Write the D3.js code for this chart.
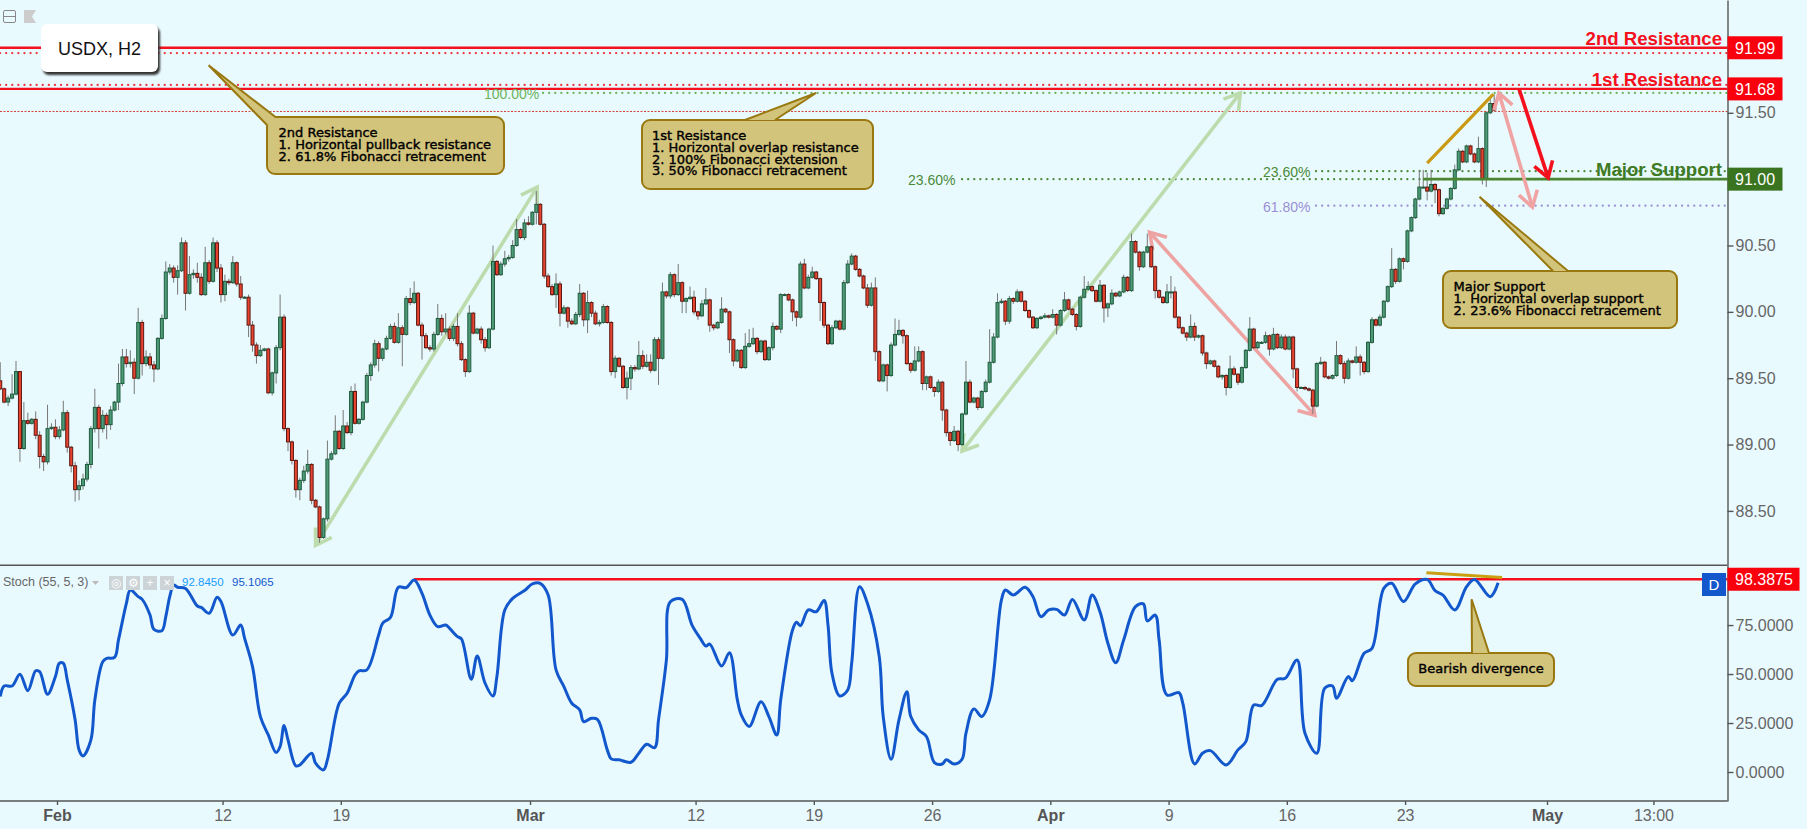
<!DOCTYPE html>
<html>
<head>
<meta charset="utf-8">
<title>USDX, H2</title>
<script src="https://cdn.jsdelivr.net/npm/d3@7"></script>
<style>
  html, body { margin: 0; padding: 0; background: #e9faff; }
  svg { display: block; }
  text { font-family: "Liberation Sans", Arial, sans-serif; }
  .axis text { font-size: 16px; fill: #666; }
  .axis path, .axis line { stroke: #555; stroke-width: 1.4px; }
</style>
</head>
<body>
<svg id="chart" width="1807" height="829"></svg>
<script>
const WIDTH = 1807;
const AXIS_X = 1727.5;
const PANE_BOTTOM = 565.3;
const STOCH_BOTTOM = 801;
const FIRST_DAY = -2.4;      // trading days from 1 Feb
const BARS_PER_DAY = 6;

const firstOpen = 89.48;

const closes = [
  89.42,89.32,89.35,89.38,89.55,88.97,89.18,89.16,89.19,89.07,88.91,88.87,89.12,89.13,89.06,89.11,89.24,88.98,88.84,88.66,88.69,88.74,88.85,89.12,89.28,89.12,89.22,89.15,89.26,89.32,89.46,89.66,89.61,89.62,89.50,89.92,89.61,89.66,89.60,89.57,89.80,89.95,90.30,90.33,90.26,90.31,90.52,90.14,90.28,90.29,90.26,90.13,90.37,90.23,90.52,90.33,90.13,90.23,90.22,90.37,90.21,90.11,90.11,89.90,89.75,89.67,89.71,89.72,89.39,89.54,89.73,89.96,89.12,89.02,88.88,88.66,
  88.73,88.80,88.85,88.58,88.53,88.30,88.44,88.89,88.93,89.10,88.97,89.14,89.09,89.40,89.16,89.19,89.32,89.52,89.60,89.76,89.65,89.72,89.80,89.89,89.77,89.88,89.83,90.10,90.07,90.14,89.90,89.82,89.73,89.72,89.83,89.95,89.85,89.87,89.80,89.89,89.76,89.64,89.55,89.99,89.84,89.87,89.79,89.73,89.87,90.38,90.28,90.36,90.40,90.41,90.50,90.62,90.56,90.67,90.66,90.75,90.81,90.66,90.27,90.19,90.13,90.21,89.99,90.03,89.93,89.91,89.98,90.14,89.94,90.07,89.99,89.91,
  89.92,90.04,89.92,89.55,89.65,89.59,89.43,89.50,89.58,89.57,89.67,89.59,89.62,89.56,89.79,89.65,90.15,90.12,90.28,90.13,90.22,90.08,90.10,90.11,90.00,89.97,90.06,90.09,89.90,89.88,89.92,90.02,90.00,89.79,89.63,89.71,89.58,89.74,89.76,89.80,89.70,89.78,89.64,89.73,89.89,89.87,90.13,90.13,90.09,90.00,89.96,90.36,90.18,90.26,90.30,90.25,90.07,89.90,89.76,89.88,89.93,89.87,90.22,90.36,90.42,90.32,90.27,90.18,90.05,90.18,89.70,89.48,89.60,89.52,89.75,89.83,
  89.86,89.82,89.61,89.56,89.63,89.70,89.46,89.51,89.43,89.40,89.47,89.26,89.09,89.03,89.10,89.00,89.23,89.47,89.32,89.35,89.28,89.40,89.47,89.62,89.81,90.07,90.08,89.93,90.10,90.08,90.15,90.08,90.01,89.96,89.88,89.95,89.96,89.97,89.96,89.98,89.90,90.01,90.09,90.02,89.98,89.89,90.11,90.17,90.19,90.16,90.08,90.20,90.03,90.06,90.14,90.12,90.15,90.26,90.16,90.53,90.45,90.34,90.45,90.49,90.34,90.16,90.11,90.07,90.15,90.15,89.96,89.88,89.84,89.81,89.89,89.81,
  89.82,89.69,89.61,89.63,89.59,89.51,89.52,89.43,89.57,89.53,89.47,89.58,89.71,89.87,89.73,89.77,89.77,89.82,89.72,89.83,89.73,89.81,89.72,89.81,89.57,89.43,89.43,89.42,89.41,89.29,89.61,89.62,89.51,89.50,89.52,89.67,89.61,89.50,89.63,89.62,89.66,89.62,89.55,89.77,89.94,89.90,89.96,90.08,90.19,90.32,90.23,90.40,90.38,90.61,90.71,90.85,90.94,90.94,90.91,90.96,90.92,90.74,90.78,90.85,90.93,91.07,91.21,91.13,91.25,91.19,91.13,91.23,91.00,91.50,91.57,91.52
];

// wick lengths above and below each body, in hundredths of a point
const upperWicks = [
  14,1,2,15,8,0,14,6,1,6,3,2,18,3,6,3,9,2,1,3,4,4,2,2,14,2,4,2,3,1,15,6,6,9,3,11,2,5,3,3,1,3,8,3,2,4,4,2,14,3,8,3,12,2,4,2,3,5,2,5,1,6,1,2,3,2,4,1,1,1,2,17,2,1,1,1,
  2,4,11,1,1,1,1,14,2,12,1,12,3,4,6,1,1,2,2,3,2,1,2,2,3,11,2,2,8,9,1,2,2,2,2,11,3,12,2,2,10,2,1,6,1,1,2,2,1,12,1,2,6,2,4,8,1,3,5,1,10,1,1,2,2,8,2,2,1,2,2,7,1,9,1,2,
  2,2,1,1,2,1,1,5,2,2,11,4,6,6,2,2,7,1,2,1,14,1,1,8,5,1,3,9,1,1,1,9,1,1,1,1,1,10,11,8,1,1,1,1,3,1,1,1,1,1,1,2,4,2,4,1,1,1,1,2,1,1,2,3,2,1,1,1,3,4,8,1,1,1,2,12,
  8,1,1,1,11,4,1,1,1,1,2,1,1,1,4,1,1,16,2,1,1,1,2,25,3,7,2,1,2,1,2,1,1,1,1,1,1,2,1,4,1,1,6,1,1,1,1,10,4,1,1,4,1,1,3,1,1,2,1,6,1,1,1,10,1,1,1,1,6,12,4,1,1,1,9,3,
  1,1,1,1,1,1,1,1,10,2,1,1,1,9,1,1,1,3,1,5,1,2,2,1,1,1,1,1,1,1,1,4,1,1,1,11,1,2,2,1,8,2,1,1,2,1,2,1,1,16,1,1,1,1,1,1,13,13,11,11,1,1,1,1,1,4,2,1,1,1,1,9,1,1,4,7
];
const lowerWicks = [
  1,1,3,1,1,10,1,1,1,3,9,7,2,1,2,2,1,4,5,9,8,3,2,3,3,15,3,11,4,1,6,2,3,3,12,1,9,2,3,10,1,1,1,2,4,13,1,13,1,3,4,1,1,2,1,3,6,5,2,1,2,2,1,9,5,6,1,1,1,2,8,2,2,7,3,6,
  8,2,2,3,1,4,1,2,1,1,1,1,1,2,1,1,1,1,4,2,10,2,1,1,1,1,24,1,2,1,1,18,1,2,2,1,3,2,2,2,2,1,4,1,1,1,3,3,1,1,1,1,2,2,1,1,1,2,1,1,9,1,2,1,1,10,10,1,5,1,1,2,5,10,3,1,
  2,1,1,3,5,1,1,9,9,2,1,2,1,2,1,20,1,2,2,2,1,9,9,1,2,3,1,1,5,2,1,1,1,10,4,1,1,1,1,1,2,1,1,1,2,1,3,1,1,7,7,1,1,1,1,1,14,2,1,1,1,1,1,1,1,1,1,1,2,1,7,1,1,12,1,1,
  1,6,1,2,1,1,5,5,1,4,1,8,3,4,1,5,1,1,1,1,2,1,1,1,1,1,1,3,2,2,1,1,1,1,1,1,1,1,1,1,7,1,1,1,1,3,1,1,1,1,1,1,11,7,1,1,1,1,1,1,1,3,1,1,1,6,1,1,1,5,1,1,1,3,1,3,
  1,2,4,1,1,1,2,6,1,1,2,1,1,1,1,1,1,1,5,1,1,1,1,1,7,3,1,1,1,6,1,1,1,1,1,1,1,4,1,1,1,10,2,1,1,1,1,1,1,1,2,1,6,1,1,1,1,1,7,1,10,2,1,1,1,1,1,1,1,1,1,1,4,6,1,1
];

// stochastic line, read at the turning points
const stochBars = [
  0,1,3,5,7,9,10,12,14,15,16,17,19,20,21,23,24,26,27,29,30,32,33,35,36,38,39,41,42,43,44,45,47,50,51,53,55,56,59,61,62,64,66,68,70,71,72,73,75,76,79,80,82,83,86,88,90,91,93,96,97,99,101,103,105,107,109,111,113,114,116,117,119.5,121,123,125,126,128,130,133,135,137,139,141,143,145,147,148,150,151.5,154,155,157,160,162,164,166,167,169,170,173,175.5,177.6,
  179,180,183,185,187,188,190,193,195,197,198,201,202,203,205,207,209,210,211,213,215,216,218,220,223,224,226,228,230,231,233,235,237,239,240,242,244,245,247,249,251,254,255,257,260,262,264,266,268,270,272,275,277,279,281,283,285,288,290,291,293,294,296,299,300,303,305,307,311,314,316,318,320,324,326,329,331,334,336,338,339,342,343,346,348,351,353,356,359,362,364,366,369,372,374,378,380
];
const stochValues = [
  38.5,43.9,43.9,49.9,41.5,51.7,51.2,39.7,48.7,55.5,55.5,47,26.6,11.3,8.2,16.4,36.8,56.3,58,58.5,67.4,86.1,92.9,89.5,88.1,80.1,72.8,72.1,79.3,89.5,95.4,94.3,93.7,84.7,84,81,89.2,87,69.9,75,68.2,53.8,28.3,18.9,9.9,13,23.7,16.4,3.1,3.6,9.6,4.5,1.1,6.2,35.1,40.2,49.5,51.6,52.1,69.9,75.9,78.9,94.3,94.1,98,91.2,80.1,74.2,75,73.3,69.1,67.9,47.3,59.2,45.3,38.8,48.7,82.7,88.6,92.6,96,96.3,90.3,52.1,43.6,35.1,31.7,25.7,27.4,26.9,11.3,6.7,6.2,5,9.6,14.2,12.4,26.6,57.2,86.9,88.1,75,68.2,
  64.3,65.3,54.1,60.9,36.8,29.1,23.2,35.9,28.3,18.9,36.8,72.5,76.4,74.7,82.7,81.8,87.5,75,50.4,38.8,41.9,55.5,94.6,86.1,58.9,28.3,6.5,26.6,41,28.3,21.5,18,4.8,4.1,6.2,4.1,6.5,19.8,32.2,28.3,36.8,87.8,92.9,90.3,94.3,89.5,79.3,82.7,83,80.1,88.1,77.6,90.3,81.8,65.7,55.8,67.4,84.4,85.8,77.1,80.1,67.4,39.3,40.5,35.1,4.1,9.6,10.9,3.6,11.3,15.5,34.2,33.9,47.3,47.8,57.2,19.8,9.6,42.7,43.9,37.6,48.7,46.6,60.6,63.1,93.7,96.3,87,96,98.3,92.6,90.3,82.7,94.6,98.3,89.5,96.6
];

const priceTicks = [88.5, 89, 89.5, 90, 90.5, 91.5];
const stochTicks = [0, 25, 50, 75];
const dayTicks = [0, 7, 12, 20, 27, 32, 37, 42, 47, 52, 57, 63, 67.5];
const dayLabels = ['Feb', '12', '19', 'Mar', '12', '19', '26', 'Apr', '9', '16', '23', 'May', '13:00'];
const monthLabels = ['Feb', 'Mar', 'Apr', 'May'];

// [bar, price] pairs for the drawn trend lines
const greenArrowOne = [[80, 88.24], [136.2, 90.94]];
const greenArrowTwo = [[244, 88.95], [314.6, 91.65]];
const pinkArrowOne = [[291.6, 90.60], [333.5, 89.22]];
const pinkArrowTwo = [[380.2, 91.65], [388.7, 90.79]];
const redArrow = [[385.3, 91.68], [392.7, 91.01]];
const orangeLine = [[362, 91.12], [378.8, 91.64]];
const divergenceLine = [[361.8, 101.7], [381, 99.3]];
const STOCH_LEVEL_BAR = 105;
const STOCH_LEVEL = 98.3875;

const x = d3.scaleLinear().domain([0, 63]).range([57, 1547]);
const y = d3.scaleLinear().domain([88.09, 92.35]).range([PANE_BOTTOM, 0]);
const stochY = d3.scaleLinear().domain([-14.8, 105.5]).range([STOCH_BOTTOM, PANE_BOTTOM]);
const barX = i => x(FIRST_DAY + i / BARS_PER_DAY);

const svg = d3.select('#chart');

function level(price, x0, cls) {
  const s = svg.append('line')
    .attr('x1', x0).attr('x2', AXIS_X)
    .attr('y1', y(price)).attr('y2', y(price))
    .attr('stroke', cls.color).attr('stroke-width', cls.width);
  if (cls.dash) s.attr('stroke-dasharray', cls.dash).attr('stroke-linecap', cls.cap || 'butt');
}

function arrow(points, yScale, color, width, heads) {
  const p = points.map(d => [barX(d[0]), yScale(d[1])]);
  const g = svg.append('g').attr('fill', 'none').attr('stroke', color)
    .attr('stroke-width', width).attr('stroke-linejoin', 'miter');
  g.append('line').attr('x1', p[0][0]).attr('y1', p[0][1]).attr('x2', p[1][0]).attr('y2', p[1][1]);
  heads.forEach(h => {
    const tip = p[h], tail = p[1 - h];
    const a = Math.atan2(tail[1] - tip[1], tail[0] - tip[0]);
    const arm = da => [tip[0] + 18 * Math.cos(a + da), tip[1] + 18 * Math.sin(a + da)];
    g.append('path').attr('d', d3.line()([arm(0.56), tip, arm(-0.56)]));
  });
}

const dotted = color => ({ color, width: 2.2, dash: '0.1 6', cap: 'round' });

// levels that sit behind the price
level(91.95, 0, dotted('#f0303c'));
level(91.71, 0, dotted('#f0303c'));
level(91.65, 543, dotted('#6db35c'));
level(91.51, 0, { color: '#d2402e', width: 1, dash: '2 1.5' });
level(91.06, 1316, dotted('#4a8a38'));
level(91.00, 962, dotted('#4a8a38'));
level(90.80, 1316, dotted('#9a8fd4'));
level(91.99, 0, { color: '#f4101c', width: 2.4 });
level(91.68, 0, { color: '#f4101c', width: 2.4 });

arrow(greenArrowOne, y, '#bcdcae', 3.6, [0, 1]);
arrow(greenArrowTwo, y, '#bcdcae', 3.6, [0, 1]);
arrow(pinkArrowOne, y, '#eea3a3', 3.6, [0, 1]);

// candles
const candles = closes.map((close, i) => {
  const open = i === 0 ? firstOpen : closes[i - 1];
  return {
    i, open, close,
    high: Math.max(open, close) + upperWicks[i] / 100,
    low: Math.min(open, close) - lowerWicks[i] / 100
  };
});

svg.append('g').selectAll('line').data(candles).join('line')
  .attr('x1', d => barX(d.i)).attr('x2', d => barX(d.i))
  .attr('y1', d => y(d.high)).attr('y2', d => y(d.low))
  .attr('stroke', '#777').attr('stroke-width', 1);

svg.append('g').selectAll('rect').data(candles).join('rect')
  .attr('x', d => barX(d.i) - 1.5)
  .attr('width', 3)
  .attr('y', d => y(Math.max(d.open, d.close)))
  .attr('height', d => Math.max(1, Math.abs(y(d.open) - y(d.close))))
  .attr('fill', d => d.close >= d.open ? '#4d9a78' : '#e8432e')
  .attr('stroke', d => d.close >= d.open ? '#1f5c3c' : '#5c1710')
  .attr('stroke-width', 1);

level(91.00, 1423, { color: '#4b8530', width: 2.6 });

arrow(pinkArrowTwo, y, '#f0a3a3', 3.6, [0, 1]);
arrow(redArrow, y, '#f4101c', 3.6, [1]);
arrow(orangeLine, y, '#c99a12', 3.2, []);

// stochastic pane
svg.append('line').attr('x1', barX(STOCH_LEVEL_BAR)).attr('x2', AXIS_X)
  .attr('y1', stochY(STOCH_LEVEL)).attr('y2', stochY(STOCH_LEVEL))
  .attr('stroke', '#f4101c').attr('stroke-width', 2.4);

svg.append('path')
  .datum(stochBars.map((b, i) => [barX(b), stochY(stochValues[i])]))
  .attr('fill', 'none').attr('stroke', '#1258cc').attr('stroke-width', 3)
  .attr('stroke-linejoin', 'round')
  .attr('d', d3.line().curve(d3.curveCatmullRom.alpha(0.5)));

arrow(divergenceLine, stochY, '#c9a012', 3, []);

// axes
svg.append('g').attr('class', 'axis')
  .attr('transform', `translate(${AXIS_X},0)`)
  .call(d3.axisRight(y).tickValues(priceTicks).tickFormat(d3.format('.2f')).tickSize(6).tickSizeOuter(0).tickPadding(2));

svg.append('g').attr('class', 'axis')
  .attr('transform', `translate(${AXIS_X},0)`)
  .call(d3.axisRight(stochY).tickValues(stochTicks).tickFormat(d3.format('.4f')).tickSize(6).tickSizeOuter(0).tickPadding(2));

const timeAxis = svg.append('g').attr('class', 'axis')
  .attr('transform', `translate(0,${STOCH_BOTTOM})`)
  .call(d3.axisBottom(x).tickValues(dayTicks).tickFormat((d, i) => dayLabels[i]).tickSize(4).tickSizeOuter(0).tickPadding(5));
timeAxis.select('.domain').remove();
timeAxis.selectAll('text')
  .attr('font-weight', (d, i) => monthLabels.includes(dayLabels[i]) ? 'bold' : null)
  .style('fill', (d, i) => monthLabels.includes(dayLabels[i]) ? '#555' : '#666');

[PANE_BOTTOM, STOCH_BOTTOM].forEach(py => {
  svg.append('line').attr('x1', 0).attr('x2', AXIS_X).attr('y1', py).attr('y2', py)
    .attr('stroke', '#555').attr('stroke-width', 1.4);
});

// value tags on the price axis
function tag(value, yScale, fill, digits, w) {
  const cy = yScale(value);
  svg.append('rect').attr('x', AXIS_X).attr('y', cy - 11.5).attr('width', w).attr('height', 23).attr('fill', fill);
  svg.append('text').attr('x', AXIS_X + 7.5).attr('y', cy + 6).attr('fill', '#fff').attr('font-size', 16)
    .text(value.toFixed(digits));
}
tag(91.99, y, '#f8000c', 2, 55);
tag(91.68, y, '#f8000c', 2, 55);
tag(91.00, y, '#3a7420', 2, 55);
tag(STOCH_LEVEL, stochY, '#f8000c', 4, 72);

svg.append('rect').attr('x', 1702).attr('y', 573).attr('width', 24).attr('height', 23).attr('fill', '#1258cc');
svg.append('text').attr('x', 1714).attr('y', 590).attr('text-anchor', 'middle').attr('fill', '#fff').attr('font-size', 15).text('D');

// level names
[['2nd Resistance', 91.99, '#f4101c', 3], ['1st Resistance', 91.68, '#f4101c', 3.3], ['Major Support', 91.00, '#3f7a24', 3.6]].forEach(d => {
  svg.append('text').attr('x', 1722).attr('y', y(d[1]) - d[3]).attr('text-anchor', 'end')
    .attr('font-size', 18.6).attr('font-weight', 'bold').attr('fill', d[2]).text(d[0]);
});

// fibonacci labels
[['100.00%', 91.65, 484, '#6db35c'], ['23.60%', 91.00, 908, '#4a8a38'], ['23.60%', 91.06, 1263, '#4a8a38'], ['61.80%', 90.80, 1263, '#9a8fd4']].forEach(d => {
  svg.append('text').attr('x', d[2]).attr('y', y(d[1]) + 6).attr('font-size', 14).attr('fill', d[3]).text(d[0]);
});

// callouts
function callout(box, tail, lines, textX, firstBaseline, anchor) {
  const g = svg.append('g');
  g.append('rect').attr('x', box[0]).attr('y', box[1]).attr('width', box[2] - box[0]).attr('height', box[3] - box[1])
    .attr('rx', 8).attr('fill', '#d3c47c').attr('stroke', '#98780f').attr('stroke-width', 2);
  g.append('path').attr('d', d3.line()(tail)).attr('fill', '#d3c47c').attr('stroke', '#98780f').attr('stroke-width', 2);
  g.append('g').selectAll('text').data(lines).join('text')
    .attr('x', textX).attr('y', (d, i) => firstBaseline + i * 11.8)
    .attr('text-anchor', anchor || 'start')
    .style('font-family', '"DejaVu Sans"')
    .attr('font-size', 13).attr('fill', '#000').attr('stroke', '#000').attr('stroke-width', 0.4).text(d => d);
}

callout([267, 117, 504, 174], [[267, 125], [208.6, 65.3], [275.5, 117]],
  ['2nd Resistance', '1. Horizontal pullback resistance', '2. 61.8% Fibonacci retracement'], 278.6, 137);
callout([642, 120, 873, 189], [[745, 120], [816, 93], [775, 120]],
  ['1st Resistance', '1. Horizontal overlap resistance', '2. 100% Fibonacci extension', '3. 50% Fibonacci retracement'], 652, 140);
callout([1443, 271, 1677, 328], [[1553, 271], [1479.5, 196.7], [1568, 271]],
  ['Major Support', '1. Horizontal overlap support', '2. 23.6% Fibonacci retracement'], 1453.6, 291);
callout([1408, 653, 1554, 686], [[1472, 653], [1471.6, 599.3], [1489, 653]],
  ['Bearish divergence'], 1481, 673, 'middle');

// symbol box
svg.append('rect').attr('x', 41).attr('y', 24).attr('width', 117).attr('height', 48).attr('rx', 6)
  .attr('fill', '#fff').style('filter', 'drop-shadow(2px 3px 1px #333)');
svg.append('text').attr('x', 58).attr('y', 54.5).attr('font-size', 18).attr('fill', '#111').text('USDX, H2');

// pane controls
svg.append('rect').attr('x', 3.5).attr('y', 10.5).attr('width', 12).attr('height', 12).attr('rx', 1.5)
  .attr('fill', 'none').attr('stroke', '#888');
svg.append('line').attr('x1', 3.5).attr('x2', 15.5).attr('y1', 16.5).attr('y2', 16.5).attr('stroke', '#888');
svg.append('path').attr('d', 'M24,10H36L32,16.5L36,23H24Z').attr('fill', '#ccc');

// stochastic legend
svg.append('text').attr('x', 3).attr('y', 586).attr('font-size', 12.5).attr('fill', '#666').text('Stoch (55, 5, 3)');
svg.append('path').attr('d', 'M92,581H99L95.5,585Z').attr('fill', '#bbb');
[109, 126, 143, 160].forEach((bx, i) => {
  svg.append('rect').attr('x', bx).attr('y', 576).attr('width', 14).attr('height', 14).attr('fill', '#ccd4d8');
  svg.append('text').attr('x', bx + 7).attr('y', 587).attr('text-anchor', 'middle').attr('font-size', 12)
    .attr('fill', '#fff').text(['\u25CE', '\u2699', '+', '\u00D7'][i]);
});
svg.append('text').attr('x', 182).attr('y', 586).attr('font-size', 11.5).attr('fill', '#1a9cff').text('92.8450');
svg.append('text').attr('x', 232).attr('y', 586).attr('font-size', 11.5).attr('fill', '#1258cc').text('95.1065');
</script>
</body>
</html>
